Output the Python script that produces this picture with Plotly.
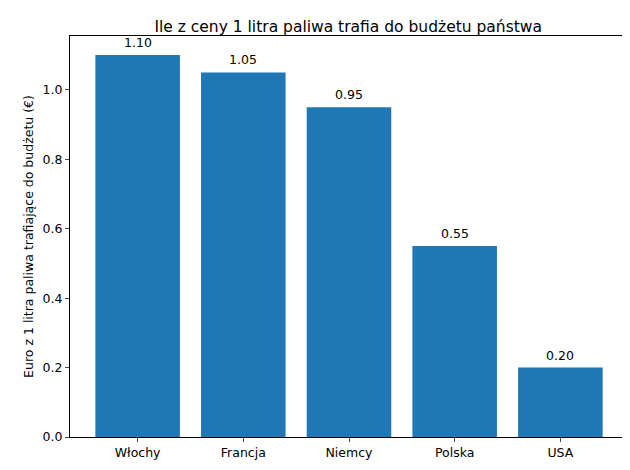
import plotly.graph_objects as go

countries = ["Włochy", "Francja", "Niemcy", "Polska", "USA"]
values = [1.10, 1.05, 0.95, 0.55, 0.20]
labels = ["1.10", "1.05", "0.95", "0.55", "0.20"]

fig = go.Figure(go.Bar(x=list(range(len(countries))), y=values, width=0.8,
                       marker=dict(color="#1f77b4", line=dict(width=0))))
for i, (v, t) in enumerate(zip(values, labels)):
    fig.add_annotation(x=i, y=v, text=t, showarrow=False, yanchor="bottom", yshift=3,
                       font=dict(size=12.5, color="black"))
fig.update_layout(
    width=630, height=470, plot_bgcolor="white", paper_bgcolor="white",
    font=dict(family="DejaVu Sans", size=12.5, color="black"),
    title=dict(text="Ile z ceny 1 litra paliwa trafia do budżetu państwa", x=0.54, xanchor="center",
               y=0.96, yanchor="middle", font=dict(size=15.5)),
    margin=dict(l=62, r=10, t=28, b=41, autoexpand=False), showlegend=False,
    xaxis=dict(range=[-0.64, 4.64], tickvals=list(range(5)), ticktext=countries,
               showline=True, mirror=True, linecolor="black", ticks="outside", ticklen=4,
               showgrid=False, zeroline=False),
    yaxis=dict(range=[0, 1.155], dtick=0.2, tickformat=".1f", showline=True, mirror=True,
               linecolor="black", ticks="outside", ticklen=4, showgrid=False, zeroline=False,
               automargin=False,
               title=dict(text="Euro z 1 litra paliwa trafiające do budżetu (€)", standoff=6,
                          font=dict(size=12.5))),
)
fig.write_html("out.html")
